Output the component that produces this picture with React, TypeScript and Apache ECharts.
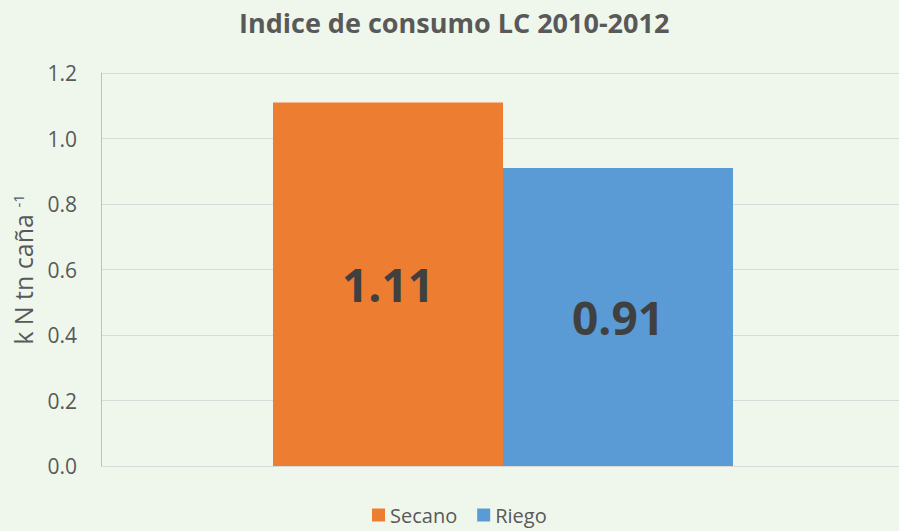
import React, { useEffect, useRef } from "react";
import * as echarts from "echarts";

const categories = [""];
const seriesNames = ["Secano", "Riego"];
const secanoValues = [1.11];
const riegoValues = [0.91];
const seriesColors = ["#ED7D31", "#5B9BD5"];
const titleText = "Indice de consumo LC 2010-2012";

export default function App() {
  const ref = useRef<HTMLDivElement>(null);
  useEffect(() => {
    if (!ref.current) return;
    const chart = echarts.init(ref.current, undefined, { renderer: "svg" });
    const font = "'Open Sans', 'Noto Sans', sans-serif";
    const data = [secanoValues, riegoValues];
    chart.setOption({
      animation: false,
      backgroundColor: "#EFF7EC",
      textStyle: { fontFamily: font },
      title: {
        text: titleText,
        left: 234,
        top: 4,
        textStyle: { fontFamily: font, fontSize: 27, fontWeight: "bold", color: "#595959" },
      },
      legend: {
        data: seriesNames,
        left: 367,
        top: 500,
        icon: "rect",
        itemWidth: 13,
        itemHeight: 13,
        itemGap: 20,
        textStyle: { fontFamily: font, fontSize: 20, color: "#595959" },
      },
      grid: { left: 101, width: 804, top: 73, bottom: 65, containLabel: false },
      xAxis: {
        type: "category",
        data: categories,
        axisLine: { show: true, lineStyle: { color: "#D9D9D9", width: 1 } },
        axisTick: { show: false },
        axisLabel: { show: false },
      },
      yAxis: {
        type: "value",
        min: 0,
        max: 1.2,
        interval: 0.2,
        name: "{a|k N tn caña }{b|-1}",
        nameLocation: "middle",
        nameGap: 66,
        nameRotate: 90,
        nameTextStyle: {
          rich: {
            a: { fontFamily: font, fontSize: 25, color: "#595959" },
            b: { fontFamily: font, fontSize: 15, color: "#595959", verticalAlign: "top", padding: [0, 0, 10, 0] },
          },
        },
        axisLine: { show: true, lineStyle: { color: "#BFBFBF", width: 1 } },
        axisTick: { show: false },
        axisLabel: {
          fontFamily: font,
          fontSize: 21,
          color: "#595959",
          margin: 24,
          formatter: (v: number) => v.toFixed(1),
        },
        splitLine: { show: true, lineStyle: { color: "#D9D9D9", width: 1 } },
      },
      series: seriesNames.map((name, i) => ({
        name,
        type: "bar",
        data: data[i],
        barWidth: 230,
        barGap: "0%",
        itemStyle: { color: seriesColors[i] },
        label: {
          show: true,
          position: "inside",
          fontFamily: font,
          fontSize: 46,
          fontWeight: "bold",
          color: "#404040",
          formatter: (p: any) => p.value.toFixed(2),
        },
      })),
    });
    return () => chart.dispose();
  }, []);
  return (
    <div style={{ position: "fixed", left: 0, top: 0, width: 899, height: 531, overflow: "hidden" }}>
      <div ref={ref} style={{ width: 905, height: 531 }} />
    </div>
  );
}
